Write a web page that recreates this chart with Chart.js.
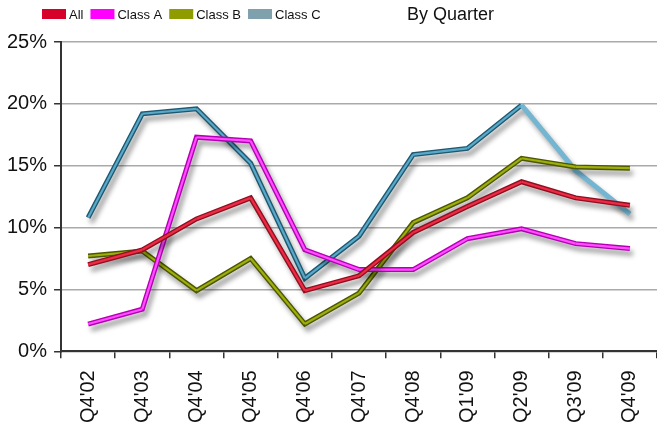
<!DOCTYPE html>
<html>
<head>
<meta charset="utf-8">
<script src="https://cdn.jsdelivr.net/npm/chart.js@4/dist/chart.umd.min.js"></script>
<style>
  html, body { margin: 0; padding: 0; background: #fff; }
  #wrap { position: relative; width: 657px; height: 429px; }
</style>
</head>
<body>
<div id="wrap"><canvas id="c" width="657" height="429"></canvas></div>
<script>
// Quarterly rates by class
const categories = ["Q4'02", "Q4'03", "Q4'04", "Q4'05", "Q4'06", "Q4'07", "Q4'08", "Q1'09", "Q2'09", "Q3'09", "Q4'09"];
const allRates    = [7.0, 8.2, 10.7, 12.4, 4.9, 6.1, 9.6, 11.7, 13.7, 12.4, 11.8];
const classARates = [2.2, 3.4, 17.3, 17.0, 8.2, 6.6, 6.6, 9.1, 9.9, 8.7, 8.3];
const classBRates = [7.7, 8.1, 4.9, 7.5, 2.2, 4.7, 10.4, 12.4, 15.6, 14.9, 14.8];
const classCRates = [10.8, 19.2, 19.6, 15.2, 5.9, 9.3, 15.9, 16.4, 19.9, 14.6, 11.1];
const yTicks = [0, 5, 10, 15, 20, 25];

const FONT = "'Liberation Sans', Arial, sans-serif";

// series styling: legend swatch, outer edge, inner highlight, optional pale tail
const series = [
  { label: 'All',     data: allRates,    swatch: '#d6002b', edge: '#8e0f1f', core: '#ee2a45' },
  { label: 'Class A', data: classARates, swatch: '#ff00ff', edge: '#b400b4', core: '#ff4dff' },
  { label: 'Class B', data: classBRates, swatch: '#8f9c00', edge: '#4a5600', core: '#9fae0a' },
  { label: 'Class C', data: classCRates, swatch: '#7fa1ad', edge: '#1d5870', core: '#5aa9c9',
    paleFrom: 8, pale: '#74b6d2' }
];

// drop shadow under each line, then a lighter core stroke on top
const lineShade = {
  id: 'lineShade',
  beforeDatasetDraw(chart) {
    const ctx = chart.ctx;
    ctx.save();
    ctx.shadowColor = 'rgba(0,0,0,0.38)';
    ctx.shadowBlur = 5;
    ctx.shadowOffsetX = 3;
    ctx.shadowOffsetY = 5;
  },
  afterDatasetDraw(chart, args) {
    const ctx = chart.ctx;
    ctx.restore();
    const s = series[args.index];
    const pts = args.meta.data;
    ctx.save();
    ctx.lineWidth = 2.2;
    ctx.lineJoin = 'miter';
    for (let i = 1; i < pts.length; i++) {
      ctx.beginPath();
      ctx.moveTo(pts[i - 1].x, pts[i - 1].y);
      ctx.lineTo(pts[i].x, pts[i].y);
      ctx.strokeStyle = (s.paleFrom !== undefined && i - 1 >= s.paleFrom) ? s.pale : s.core;
      ctx.stroke();
    }
    ctx.restore();
  }
};

// legend row and heading
const header = {
  id: 'header',
  afterDraw(chart) {
    const ctx = chart.ctx;
    ctx.save();
    ctx.font = '13px ' + FONT;
    ctx.textBaseline = 'middle';
    let x = 42;
    const y = 14;
    series.forEach(s => {
      ctx.fillStyle = s.swatch;
      ctx.fillRect(x, y - 5, 24, 10);
      x += 27;
      ctx.fillStyle = '#111';
      ctx.fillText(s.label, x, y + 1);
      x += ctx.measureText(s.label).width + 7;
    });
    ctx.font = '18px ' + FONT;
    ctx.fillStyle = '#111';
    ctx.fillText('By Quarter', 407, y + 1);
    ctx.restore();
  }
};

new Chart(document.getElementById('c'), {
  type: 'line',
  data: {
    labels: categories,
    datasets: series.map(s => ({
      label: s.label,
      data: s.data,
      borderColor: s.edge,
      backgroundColor: s.swatch,
      borderWidth: 5,
      pointRadius: 0,
      tension: 0,
      fill: false,
      borderJoinStyle: 'miter',
      segment: {
        borderColor: ctx => (s.paleFrom !== undefined && ctx.p0DataIndex >= s.paleFrom) ? s.pale : s.edge
      }
    }))
  },
  options: {
    responsive: false,
    animation: false,
    devicePixelRatio: 1,
    layout: { padding: { top: 42, left: 0, right: 0, bottom: -6 } },
    plugins: {
      legend: { display: false },
      tooltip: { enabled: false }
    },
    scales: {
      x: {
        offset: true,
        // the plot runs right up to the canvas edge
        afterFit(scale) { scale.paddingRight = 0; },
        grid: { offset: true, drawOnChartArea: false, drawTicks: true, tickLength: 7, color: '#333', lineWidth: 1.5 },
        border: { color: '#333', width: 2 },
        ticks: {
          color: '#111',
          font: { family: FONT, size: 20 },
          minRotation: 90, maxRotation: 90,
          autoSkip: false,
          padding: 12
        }
      },
      y: {
        min: 0, max: 25,
        afterBuildTicks(axis) { axis.ticks = yTicks.map(v => ({ value: v })); },
        grid: { color: '#aaa', lineWidth: 1.5, tickLength: 7, tickColor: '#333' },
        border: { color: '#333', width: 2 },
        ticks: {
          color: '#111',
          font: { family: FONT, size: 20 },
          padding: 7,
          callback: v => v + '%'
        }
      }
    }
  },
  plugins: [lineShade, header]
});
</script>
</body>
</html>
